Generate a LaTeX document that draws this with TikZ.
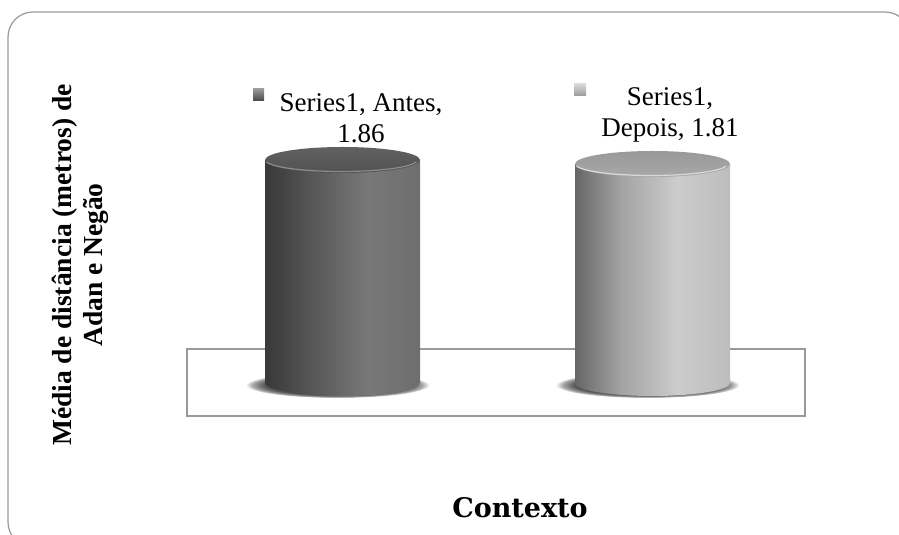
\documentclass[tikz,border=0pt]{standalone}
\usepackage{fontspec}
\setmainfont{Liberation Serif}
\newfontfamily\lblfont{DejaVu Serif}
\usetikzlibrary{calc}
\usetikzlibrary{positioning}

% cylinder sides, dark and light, and the soft shadow below them
\pgfdeclarehorizontalshading{cylA}{100bp}{color(0bp)=(black!78); color(25bp)=(black!78); color(40bp)=(black!66); color(58bp)=(black!53); color(75bp)=(black!57); color(100bp)=(black!57)}
\pgfdeclarehorizontalshading{cylB}{100bp}{color(0bp)=(black!60); color(25bp)=(black!60); color(40bp)=(black!36); color(58bp)=(black!20); color(75bp)=(black!26); color(100bp)=(black!26)}
\pgfdeclareradialshading{cylshadow}{\pgfpoint{0bp}{0bp}}{color(0bp)=(black!75); color(20bp)=(black!65); color(23bp)=(black!35); color(25bp)=(white); color(50bp)=(white)}

\tikzset{
  frameline/.style={draw=black!40, line width=1.2pt},
  datalbl/.style={font=\fontsize{27}{31}\selectfont, align=center, inner sep=0},
  axistitle/.style={font=\bfseries\fontsize{27.5}{31}\selectfont, align=center, inner sep=0},
}

\begin{document}
\begin{tikzpicture}[x=1pt, y=1pt]
\useasboundingbox (0,0) rectangle (899,535);
\clip (0,0) rectangle (899,535);
\draw[frameline, rounded corners=25] (8,523) rectangle (910,-12);
\draw[frameline] (187,119) rectangle (805,186);
\foreach \cx/\ty/\sh/\ta/\tb/\rim in {342.5/375/cylA/62/68/45, 652.5/371/cylB/40/34/15} {
 \shade[shading=cylshadow] (\cx-5,150) ellipse [x radius=92, y radius=13];
 \shade[shading=\sh] (\cx-77.5,\ty) -- (\cx-77.5,152) arc[start angle=180, end angle=360, x radius=77.5, y radius=13] -- (\cx+77.5,\ty) -- cycle;
 \shade[top color=black!\ta, bottom color=black!\tb] (\cx,\ty) ellipse [x radius=77.5, y radius=13];
 \draw[black!\rim, line width=1.2pt] (\cx-76,\ty-2) arc[start angle=190, end angle=350, x radius=76, y radius=11.5];
}
% data labels with their legend keys
\shade[top color=black!40, bottom color=black!72] (253,434) rectangle (264,446);
\node[datalbl] (lblantes) at (361,417) {Series1, Antes,\\1.86};
\shade[top color=black!15, bottom color=black!40] (574,439) rectangle (586,451);
\node[datalbl] (lbldepois) at (670,420) {Series1,\\Depois, 1.81};
% axis titles
\node[axistitle, rotate=90] (ytitle) at (80,270) {Média de distância (metros) de\\Adan e Negão};
\node[axistitle, font=\lblfont\bfseries\fontsize{27}{30}\selectfont] (xtitle) at (520,27) {Contexto};
\end{tikzpicture}
\end{document}
